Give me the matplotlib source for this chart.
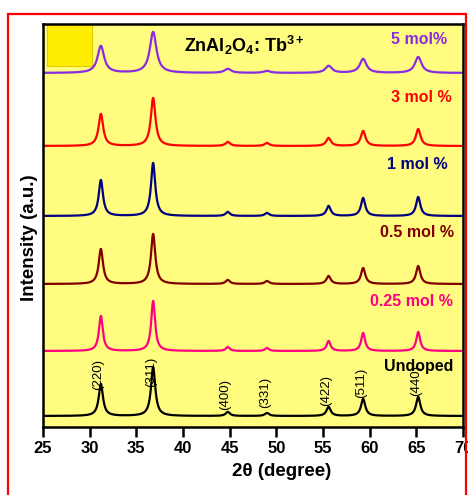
import numpy as np
import matplotlib
matplotlib.use("Agg")
import matplotlib.pyplot as plt
from matplotlib.patches import Rectangle

plt.rcParams['font.family'] = ['Liberation Sans', 'DejaVu Sans']
plt.rcParams['mathtext.fontset'] = 'custom'
plt.rcParams['mathtext.rm'] = 'Liberation Sans'
plt.rcParams['mathtext.bf'] = 'Liberation Sans:bold'

# peak positions (2theta) and hkl labels
peaks = [31.2, 36.8, 44.8, 49.0, 55.6, 59.3, 65.2]
hkl = ['(220)', '(311)', '(400)', '(331)', '(422)', '(511)', '(440)']

# series: label, colour, baseline offset, peak heights, peak width
labels = ['Undoped', '0.25 mol %', '0.5 mol %', '1 mol %', '3 mol %', '5 mol%']
colors = ['black', '#ff0080', '#800000', '#000080', '#ff0000', '#8a2be2']
offsets = [11, 76, 143, 211, 281, 354]
h_undoped = [32, 49, 4, 3, 9, 17, 19]
h_025 = [35, 50, 4, 3, 10, 18, 19]
h_05 = [35, 50, 4, 3, 8, 16, 18]
h_1 = [36, 53, 4, 3, 10, 18, 19]
h_3 = [32, 48, 4, 3, 8, 15, 17]
h_5 = [27, 41, 4, 2, 7, 14, 16]
heights = [h_undoped, h_025, h_05, h_1, h_3, h_5]
widths = [0.55, 0.5, 0.55, 0.55, 0.6, 0.85]

x = np.linspace(25, 70, 2000)

fig = plt.figure(figsize=(4.68, 4.95), dpi=100)
ax = fig.add_axes([43/468, 1-427/495, 420/468, 403/495])
ax.set_facecolor('#fffc80')

for lab, c, off, hs, w in zip(labels, colors, offsets, heights, widths):
    y = np.full_like(x, off, dtype=float)
    for p, h in zip(peaks, hs):
        y += h / (1 + ((x - p) / (w / 2)) ** 2)
    ax.plot(x, y, color=c, lw=1.6)

# curve labels (pixel positions, right edge / centre y from top)
lab_x = [453, 453, 454, 448, 452, 447]
lab_y = [366, 302, 233, 165, 98, 40]
for lab, c, lx, ly in zip(labels, colors, lab_x, lab_y):
    fig.text(lx / 468, 1 - ly / 495, lab, color=c, fontsize=11.5,
             fontweight='bold', ha='right', va='center')

# hkl labels
hkl_y = [375, 372, 395, 392, 390, 383, 381]
for p, s, hy in zip(peaks, hkl, hkl_y):
    ax.text(p - 0.25, 427 - hy, s, rotation=90, fontsize=9.5,
            ha='center', va='center')

ax.text(0.48, 0.948, r'ZnAl$_\mathbf{2}$O$_\mathbf{4}$: Tb$^\mathbf{3+}$',
        transform=ax.transAxes, fontsize=13, fontweight='bold',
        ha='center', va='center')

# small yellow square in the corner
ax.add_patch(Rectangle((0.01, 0.895), 0.107, 0.105, transform=ax.transAxes,
                       facecolor='#ffee00', edgecolor='#e8c800', lw=0.8))

ax.set_xlim(25, 70)
ax.set_ylim(0, 403)
ax.set_xticks(range(25, 71, 5))
ax.set_yticks([])
ax.tick_params(axis='x', direction='out', length=7, width=1.8, labelsize=12,
               pad=3)
for lbl in ax.get_xticklabels():
    lbl.set_fontweight('bold')
for sp in ax.spines.values():
    sp.set_linewidth(1.8)
ax.set_xlabel('2θ (degree)', fontsize=13.5, fontweight='bold')
ax.xaxis.set_label_coords(0.567, -0.09)
ax.set_ylabel('Intensity (a.u.)', fontsize=13.5, fontweight='bold')
ax.yaxis.set_label_coords(-0.012, 0.469)

# red frame around the figure
fig.patches.append(Rectangle((8/468, -0.1), 458/468, 1.1 - 14/495,
                             transform=fig.transFigure, fill=False,
                             edgecolor='red', lw=1.6))

fig.savefig('out.png', dpi=100)
